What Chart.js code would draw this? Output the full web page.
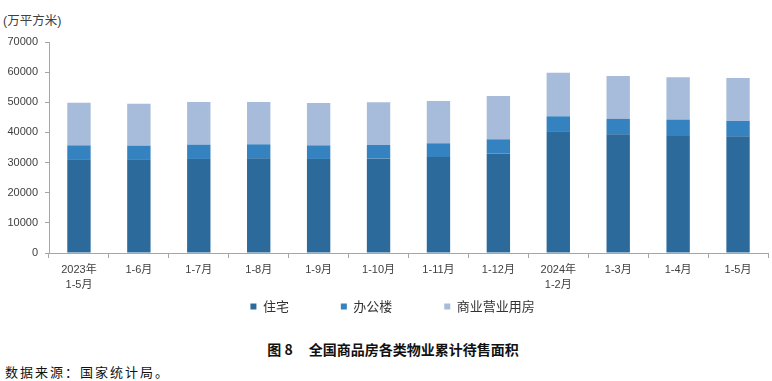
<!DOCTYPE html>
<html>
<head>
<meta charset="utf-8">
<script src="https://cdn.jsdelivr.net/npm/chart.js@4"></script>
<style>
  html, body { margin: 0; padding: 0; background: #ffffff; }
  body { width: 772px; height: 381px; position: relative; overflow: hidden; font-family: "Noto Sans CJK SC", sans-serif; }
  #wrap { position: absolute; left: 0; top: 0; width: 772px; height: 323px; }
  #unit { position: absolute; left: 3px; top: 10px; font-size: 12.5px; color: #404040; font-family: "Liberation Sans", "Noto Sans CJK SC", sans-serif; }
  #title { position: absolute; left: 0; width: 786px; top: 339px; text-align: center; font-size: 14px; font-weight: bold; color: #111; }
  #source { position: absolute; left: 5px; top: 362px; font-size: 13px; letter-spacing: 2px; color: #111; }
</style>
</head>
<body>
<div id="unit">(万平方米)</div>
<div id="wrap"><canvas id="c"></canvas></div>
<div id="title">图 8&nbsp;&nbsp;&nbsp;&nbsp;&nbsp;全国商品房各类物业累计待售面积</div>
<div id="source">数据来源：国家统计局。</div>
<script>
const categories = [
  ['2023年', '1-5月'], '1-6月', '1-7月', '1-8月', '1-9月', '1-10月',
  '1-11月', '1-12月', ['2024年', '1-2月'], '1-3月', '1-4月', '1-5月'
];
const seriesNames = ['住宅', '办公楼', '商业营业用房'];
const residential = [30900, 30900, 31200, 31400, 31200, 31300, 31850, 32950, 40370, 39380, 38820, 38720];
const office      = [4800, 4700, 4730, 4660, 4500, 4530, 4550, 4770, 4980, 5090, 5420, 5080];
const commercial  = [14170, 13940, 14170, 14040, 14070, 14170, 14030, 14370, 14470, 14250, 14040, 14260];
const yTicks = [0, 10000, 20000, 30000, 40000, 50000, 60000, 70000];

const colors = ['#2C6A9C', '#3482BF', '#A7BBDA'];
const legendSpacer = ['\u3000\u3000\u3000 ', '\u3000\u3000\u3000 ', '\u3000\u3000  '];

new Chart(document.getElementById('c'), {
  type: 'bar',
  data: {
    labels: categories,
    datasets: [
      { label: seriesNames[0], data: residential, backgroundColor: colors[0] },
      { label: seriesNames[1], data: office, backgroundColor: colors[1] },
      { label: seriesNames[2], data: commercial, backgroundColor: colors[2] }
    ]
  },
  options: {
    responsive: true,
    maintainAspectRatio: false,
    animation: false,
    layout: { padding: { top: 42, right: 4, left: 0, bottom: 0 } },
    datasets: { bar: { categoryPercentage: 1.0, barPercentage: 0.39 } },
    plugins: {
      tooltip: { enabled: false },
      legend: {
        position: 'bottom',
        fullSize: false,
        labels: {
          boxWidth: 6,
          boxHeight: 6,
          padding: 10,
          color: '#333',
          font: { size: 13, family: '"Noto Sans CJK SC", sans-serif' },
          generateLabels: (chart) => {
            const items = Chart.defaults.plugins.legend.labels.generateLabels(chart);
            items.forEach((it, i) => { it.text = it.text + legendSpacer[i]; it.lineWidth = 0; });
            return items;
          }
        }
      }
    },
    scales: {
      x: {
        stacked: true,
        grid: { display: true, drawOnChartArea: false, drawTicks: true, tickLength: 5, color: '#A6A6A6', offset: true },
        border: { display: true, color: '#A6A6A6', width: 1 },
        ticks: {
          color: '#404040',
          maxRotation: 0,
          autoSkip: false,
          padding: 5,
          font: { size: 11, family: '"Liberation Sans", "Noto Sans CJK SC", sans-serif', lineHeight: 1.35 }
        },
        afterFit: (s) => { s.height = 37; }
      },
      y: {
        stacked: true,
        min: 0,
        max: 70000,
        afterBuildTicks: (s) => { s.ticks = yTicks.map(v => ({ value: v })); },
        grid: { display: true, drawOnChartArea: false, drawTicks: true, tickLength: 4, color: '#A6A6A6' },
        border: { display: true, color: '#A6A6A6', width: 1 },
        ticks: {
          color: '#404040',
          padding: 7,
          font: { size: 11, family: '"Liberation Sans", sans-serif' },
          callback: (v) => String(v)
        },
        afterFit: (s) => { s.width = 49; }
      }
    }
  }
});
</script>
</body>
</html>
